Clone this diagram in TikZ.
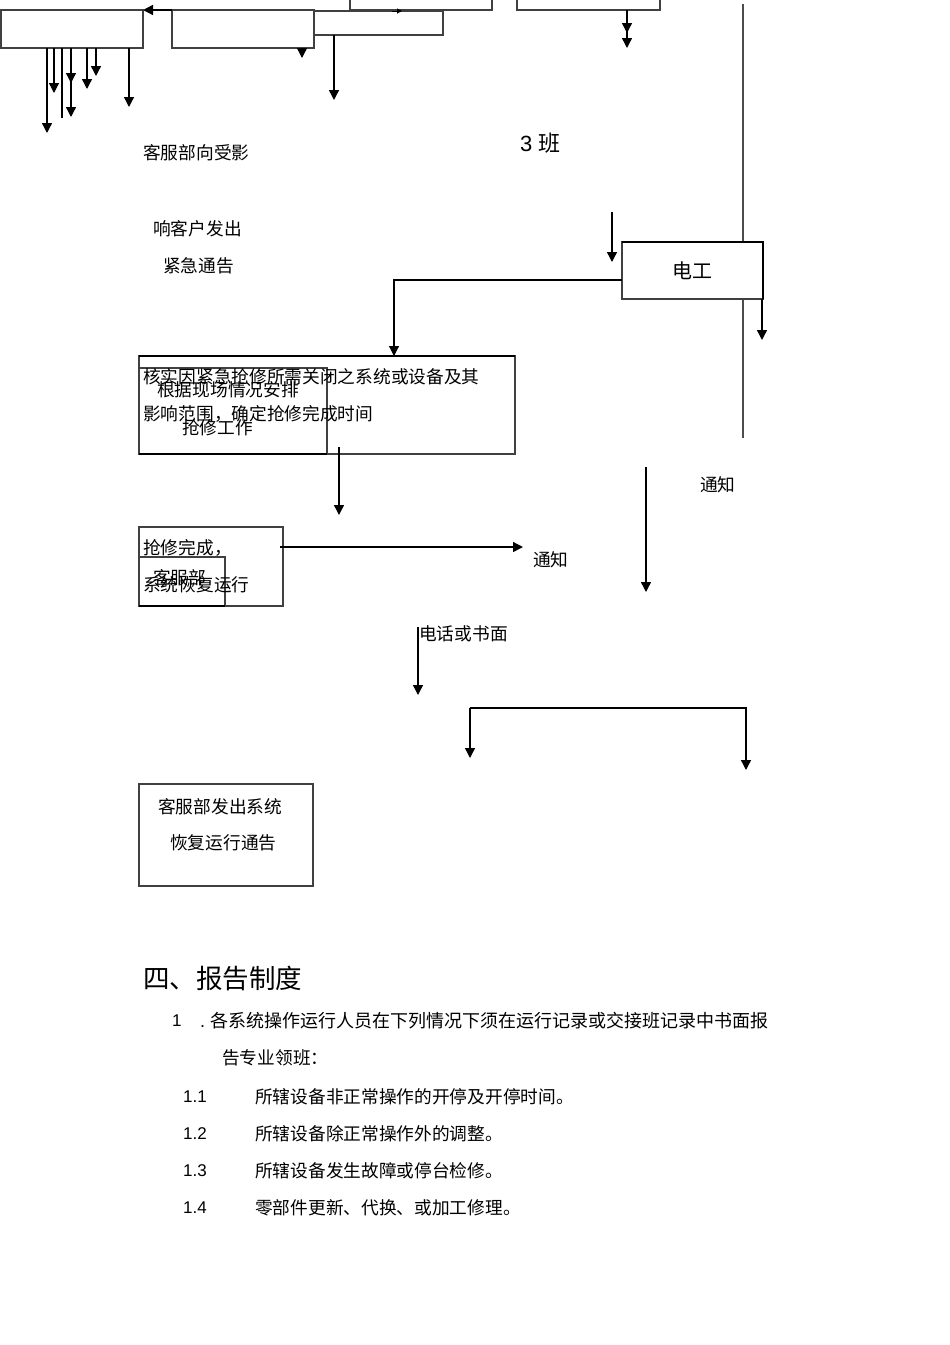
\documentclass[tikz,border=0pt]{standalone}
\usepackage{fontspec}
\setmainfont{Liberation Sans}
\newfontfamily\cjk{Noto Sans CJK SC}
\usetikzlibrary{arrows.meta,calc}
\tikzset{
  box/.style={draw=black!75, line width=1.1pt, inner sep=0pt, outer sep=0pt, anchor=north west},
  arr/.style={line width=1.4pt, -{Triangle[width=10pt,length=10pt]}},
  smallarr/.style={line width=1pt, -{Triangle[width=5pt,length=5pt]}},
  plain/.style={line width=1.4pt},
  thinline/.style={draw=black!70, line width=1.1pt},
  heavy/.style={line width=2pt},
  txt/.style={anchor=west, inner sep=0pt, font=\cjk\fontsize{17.7}{20}\selectfont},
  numtxt/.style={anchor=west, inner sep=0pt, font=\fontsize{17}{20}\selectfont},
}
\begin{document}
\begin{tikzpicture}[x=1pt,y=-1pt]
\useasboundingbox (0,0) rectangle (950,1345);
\clip (0,0) rectangle (950,1345);

% ---------- top row of boxes ----------
\node[box, minimum width=142, minimum height=38] (bA) at (1,10) {};
\node[box, minimum width=142, minimum height=38] (bB) at (172,10) {};
\node[box, minimum width=129, minimum height=24] (bC) at (314,11) {};
\node[box, minimum width=142, minimum height=40] (bD) at (350,-30) {};
\node[box, minimum width=143, minimum height=40] (bE) at (517,-30) {};

\draw[arr] (bB.north west) -- (bA.north east);
\draw[arr] ($(bA.south west)+(46,0)$) -- ++(0,85);
\draw[arr] ($(bA.south west)+(53,0)$) -- ++(0,45);
\draw[plain] ($(bA.south west)+(61,0)$) -- ++(0,70);
\draw[arr] ($(bA.south west)+(70,0)$) -- ++(0,69);
\draw[arr] ($(bA.south west)+(70,0)$) -- ++(0,35);
\draw[arr] ($(bA.south west)+(86,0)$) -- ++(0,41);
\draw[arr] ($(bA.south west)+(95,0)$) -- ++(0,28);
\draw[arr] ($(bA.south west)+(128,0)$) -- ++(0,59);
\draw[arr] ($(bB.south west)+(130,0)$) -- ++(0,10);
\draw[arr] ($(bC.south west)+(20,0)$) -- ++(0,65);
\draw[smallarr] ($(bD.south west)+(42,1)$) -- ++(10,0);
\draw[arr] ($(bE.south west)+(110,0)$) -- ++(0,23);
\draw[arr] ($(bE.south west)+(110,0)$) -- ++(0,38);

% ---------- long vertical line ----------
\coordinate (vt) at (743,4);
\coordinate (vb) at (743,438);
\draw[thinline] (vt) -- (vb);

% ---------- left texts ----------
\node[txt] (t1) at (143,153) {客服部向受影};
\node[txt] (t2) at (153,229) {响客户发出};
\node[txt] (t3) at (163,266) {紧急通告};
\node[anchor=west, inner sep=0pt, font=\fontsize{22}{26}\selectfont] (t3b) at (520,143) {3 {\cjk 班}};

% ---------- electrician ----------
\coordinate (a1) at (612,212);
\draw[arr] (a1) -- ++(0,50);
\node[box, fill=white, minimum width=141, minimum height=57, font=\cjk\fontsize{20}{24}\selectfont] (dg) at (622,242) {电工};
\draw[heavy] (dg.north west) -- (dg.north east) -- (dg.south east);
\draw[arr] ([xshift=-1pt]dg.south east) -- ++(0,41);

% ---------- verification boxes ----------
\node[box, minimum width=376, minimum height=98] (hs) at (139,356) {};
\node[box, minimum width=188, minimum height=86] (gj) at (139,368) {};
\draw[heavy] (hs.north west) -- (hs.north east);
\draw[heavy] (gj.south west) -- (gj.south east);
\draw[arr, line width=1.1pt] ([yshift=19pt]dg.south west) -| ($(hs.north west)+(255,0)$);

\node[txt] (h1) at (143,377) {核实因紧急抢修所需关闭之系统或设备及其};
\node[txt] (h2) at (143,414) {影响范围，确定抢修完成时间};
\node[txt] (g1) at (157,390) {根据现场情况安排};
\node[txt] (g2) at (182,428) {抢修工作};

\draw[arr] ($(hs.south west)+(200,-7)$) -- ++(0,68);

% ---------- repair complete ----------
\node[box, minimum width=144, minimum height=79] (qx) at (139,527) {};
\node[box, minimum width=86, minimum height=49] (kf) at (139,557) {};
\draw[heavy] (kf.south west) -- (kf.south east);
\node[txt] (q1) at (143,548) {抢修完成，};
\node[txt] (q2) at (143,585) {系统恢复运行};
\node[txt] (k1) at (153,578) {客服部};
\draw[arr] ($(qx.north east)+(-3,20)$) -- ++(243,0);

\node[txt] (tz1) at (533,560) {通知};
\node[txt] (tz2) at (700,485) {通知};
\coordinate (n1) at (646,467);
\draw[arr] (n1) -- ++(0,125);

\node[txt] (dh) at (419,634) {电话或书面};
\coordinate (n2) at (418,627);
\draw[arr] (n2) -- ++(0,68);

\coordinate (br1) at (470,708);
\coordinate (br2) at (746,708);
\draw[arr] (br1) -- (br2) -- ++(0,62);
\draw[arr] (br1) -- ++(0,50);

% ---------- restore notice ----------
\node[box, minimum width=174, minimum height=102] (fc) at (139,784) {};
\node[txt] (f1) at (158,807) {客服部发出系统};
\node[txt] (f2) at (170,843) {恢复运行通告};

% ---------- reporting section ----------
\node[anchor=west, inner sep=0pt, font=\cjk\fontsize{26.5}{30}\selectfont] (r0) at (143,978) {四、报告制度};
\node[numtxt] (r1n) at (172,1021) {1};
\node[anchor=west, inner sep=0pt, font=\cjk\fontsize{18}{21}\selectfont] (r1) at (200,1021) {{\rmfamily .\ }各系统操作运行人员在下列情况下须在运行记录或交接班记录中书面报};
\node[txt] (r1b) at (222,1058) {告专业领班：};
\node[numtxt] (n11) at (183,1097) {1.1};
\node[txt] (r11) at (255,1097) {所辖设备非正常操作的开停及开停时间。};
\node[numtxt] (n12) at (183,1134) {1.2};
\node[txt] (r12) at (255,1134) {所辖设备除正常操作外的调整。};
\node[numtxt] (n13) at (183,1171) {1.3};
\node[txt] (r13) at (255,1171) {所辖设备发生故障或停台检修。};
\node[numtxt] (n14) at (183,1208) {1.4};
\node[txt] (r14) at (255,1208) {零部件更新、代换、或加工修理。};
\end{tikzpicture}
\end{document}
